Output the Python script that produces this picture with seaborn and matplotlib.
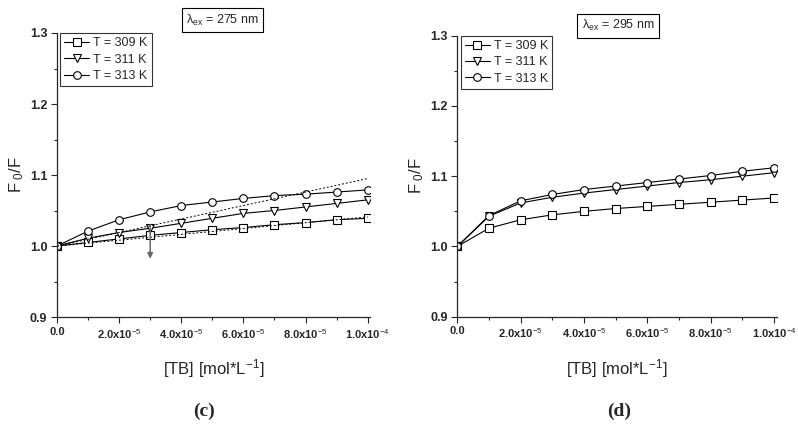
import numpy as np
import pandas as pd
import seaborn as sns
import matplotlib
matplotlib.use("Agg")
import matplotlib.pyplot as plt

# concentration of TB [mol/L]
conc = [0.0, 1e-5, 2e-5, 3e-5, 4e-5, 5e-5, 6e-5, 7e-5, 8e-5, 9e-5, 1e-4]

# (c) lambda_ex = 275 nm
c_309 = [1.000, 1.005, 1.010, 1.015, 1.019, 1.023, 1.026, 1.030, 1.033, 1.037, 1.039]
c_311 = [1.000, 1.011, 1.019, 1.025, 1.032, 1.039, 1.046, 1.050, 1.055, 1.060, 1.065]
c_313 = [1.000, 1.021, 1.037, 1.048, 1.057, 1.062, 1.067, 1.071, 1.073, 1.076, 1.079]

# dotted linear fits in (c)
fit_x = [0.0, 1e-4]
fit_hi = [1.000, 1.095]
fit_lo = [1.000, 1.041]
arrow_x = 3e-5
arrow_from = 1.030
arrow_to = 0.982

# (d) lambda_ex = 295 nm
d_309 = [1.000, 1.026, 1.038, 1.045, 1.050, 1.054, 1.057, 1.060, 1.063, 1.066, 1.069]
d_311 = [1.000, 1.043, 1.062, 1.070, 1.076, 1.081, 1.086, 1.091, 1.095, 1.100, 1.105]
d_313 = [1.000, 1.044, 1.065, 1.074, 1.081, 1.086, 1.091, 1.096, 1.101, 1.107, 1.112]

labels = ["T = 309 K", "T = 311 K", "T = 313 K"]
markers = ["s", "v", "o"]
xticks = [0.0, 2e-5, 4e-5, 6e-5, 8e-5, 1e-4]
xticklabels = ["0.0", "2.0x10$^{-5}$", "4.0x10$^{-5}$", "6.0x10$^{-5}$", "8.0x10$^{-5}$", "1.0x10$^{-4}$"]
yticks = [0.9, 1.0, 1.1, 1.2, 1.3]

sns.set_style("ticks")
plt.rcParams['font.family'] = ['Liberation Sans Narrow', 'Liberation Sans', 'DejaVu Sans']
plt.rcParams['mathtext.fontset'] = 'custom'
plt.rcParams['mathtext.rm'] = 'Liberation Sans'
plt.rcParams['mathtext.it'] = 'Liberation Sans'
plt.rcParams['mathtext.bf'] = 'Liberation Sans:bold'

fig = plt.figure(figsize=(7.98, 4.28), dpi=100)
ax_c = fig.add_axes([0.0714, 0.2593, 0.3922, 0.6636])
ax_d = fig.add_axes([0.5731, 0.2600, 0.4002, 0.6566])


def draw_panel(ax, series, xmax, lam, box_x, box_y, cap, cap_x):
    for vals, lab, mk in zip(series, labels, markers):
        sns.lineplot(x=conc, y=vals, ax=ax, color="black", linewidth=0.8,
                     marker=mk, markersize=5.5, markerfacecolor="white",
                     markeredgecolor="black", markeredgewidth=0.8, label=lab)
    ax.set_xlim(0, xmax)
    ax.set_ylim(0.9, 1.3)
    ax.set_xticks(xticks)
    ax.set_xticklabels(xticklabels, fontweight="bold", fontsize=8)
    ax.set_xticks(conc, minor=True)
    ax.set_yticks(yticks)
    ax.set_yticklabels([f"{v:.1f}" for v in yticks], fontweight="bold", fontsize=9)
    ax.set_yticks([0.95, 1.05, 1.15, 1.25], minor=True)
    ax.tick_params(which="major", direction="out", length=4, width=0.8, pad=3)
    ax.tick_params(which="minor", direction="out", length=2.5, width=0.8)
    sns.despine(ax=ax)
    for s in ["left", "bottom"]:
        ax.spines[s].set_linewidth(0.9)
    ax.set_xlabel("[TB] [mol*L$^{-1}$]", fontsize=12, labelpad=12)
    ax.set_ylabel("F$_{\\ 0}$/F", fontsize=12, labelpad=3)
    leg = ax.legend(loc="upper left", bbox_to_anchor=(0.01, 1.0), fontsize=9,
                    handlelength=2.0, handletextpad=0.3, borderpad=0.35,
                    labelspacing=0.35, frameon=True, fancybox=False, borderaxespad=0)
    leg.get_frame().set_edgecolor("black")
    leg.get_frame().set_linewidth(0.8)
    fig.text(box_x, box_y, "$\\lambda_{ex}$ = " + lam, fontsize=9,
             ha="left", va="center",
             bbox=dict(boxstyle="square,pad=0.35", facecolor="white",
                       edgecolor="black", linewidth=0.8))
    fig.text(cap_x, 0.04, cap, fontsize=14, ha="center", va="center",
             fontweight="bold", family=["Liberation Serif", "DejaVu Serif"])


draw_panel(ax_c, [c_309, c_311, c_313], 1.0074e-4, "275 nm", 0.233, 0.953, "(c)", 0.256)
draw_panel(ax_d, [d_309, d_311, d_313], 1.0085e-4, "295 nm", 0.729, 0.940, "(d)", 0.776)

# dotted fits and arrow for (c)
sns.lineplot(x=fit_x, y=fit_hi, ax=ax_c, color="black", linewidth=0.7,
             linestyle=(0, (2, 2)), legend=False)
sns.lineplot(x=fit_x, y=fit_lo, ax=ax_c, color="black", linewidth=0.7,
             linestyle=(0, (2, 2)), legend=False)
ax_c.annotate("", xy=(arrow_x, arrow_to), xytext=(arrow_x, arrow_from),
              arrowprops=dict(arrowstyle="-|>", color="dimgray", lw=1.1,
                              mutation_scale=8, shrinkA=0, shrinkB=0))

fig.savefig("out.png", dpi=100)
